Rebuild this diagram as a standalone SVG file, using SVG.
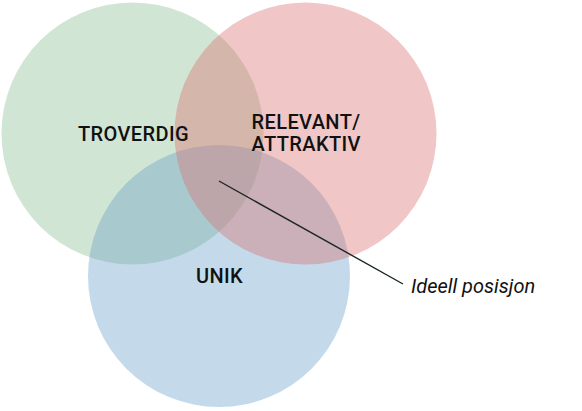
<svg xmlns="http://www.w3.org/2000/svg" width="582" height="411" viewBox="0 0 582 411">
<style>
.c{fill-opacity:0.4}
.lbl{font-family:Roboto,"Liberation Sans",sans-serif;font-size:20px;font-weight:500;letter-spacing:0.4px;fill:#111}
.note{font-family:Roboto,"Liberation Sans",sans-serif;font-size:20px;font-style:italic;fill:#111}
</style>
<rect width="582" height="411" fill="#fff"/>
<g id="troverdig"><circle class="c" cx="132.5" cy="133.5" r="131" fill="#8abe91"/></g>
<g id="unik"><circle class="c" cx="219" cy="276" r="131" fill="#6ba2ca"/></g>
<g id="relevant"><circle class="c" cx="305.5" cy="133.5" r="131" fill="#da7070"/></g>
<g id="connectors"><line x1="219" y1="181" x2="403" y2="284" stroke="#1a2626" stroke-width="1.4"/></g>
<g id="labels">
<text class="lbl" x="133.5" y="140.5" text-anchor="middle">TROVERDIG</text>
<text class="lbl" x="251.5" y="128.5">RELEVANT/</text>
<text class="lbl" x="251.5" y="150.5">ATTRAKTIV</text>
<text class="lbl" x="219.5" y="283" text-anchor="middle">UNIK</text>
<text class="note" x="411" y="292.5">Ideell posisjon</text>
</g>
</svg>
